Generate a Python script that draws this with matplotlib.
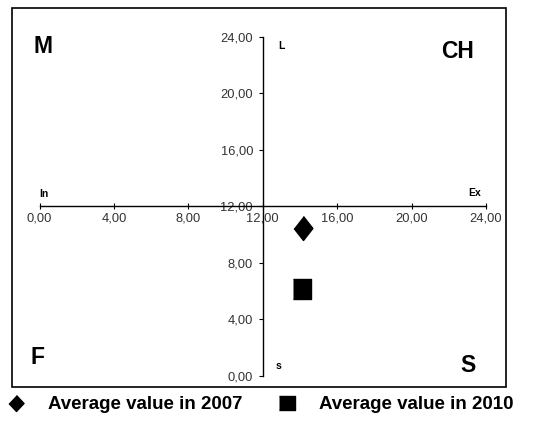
import matplotlib
matplotlib.use("Agg")
import matplotlib.pyplot as plt
from matplotlib.lines import Line2D
from matplotlib.patches import Rectangle
import numpy as np

plt.rcParams['font.family'] = ['Liberation Sans', 'DejaVu Sans']

# average positions (x = In/Ex axis, y = S/L axis)
series_names = ['Average value in 2007', 'Average value in 2010']
x_vals = [14.15, 14.13]
y_vals = [10.45, 6.16]

ticks = [0, 4, 8, 12, 16, 20, 24]
tick_labels = ['0,00', '4,00', '8,00', '12,00', '16,00', '20,00', '24,00']

W, H = 539, 443
fig = plt.figure(figsize=(W / 100, H / 100), dpi=100)

def fx(px):
    return px / W

def fy(py):
    return 1 - py / H

ax = fig.add_axes([fx(39.5), fy(375.7), fx(486) - fx(39.5), fy(37) - fy(375.7)])
ax.set_xlim(0, 24)
ax.set_ylim(0, 24)

diamond = [(0, 0.5), (0.39, 0), (0, -0.5), (-0.39, 0)]
rect = [(-0.41, -0.5), (0.41, -0.5), (0.41, 0.5), (-0.41, 0.5)]

ax.plot(x_vals[0], y_vals[0], linestyle='none', marker=diamond, markersize=17.3,
        color='black', clip_on=False)
ax.plot(x_vals[1], y_vals[1], linestyle='none', marker=rect, markersize=15.1,
        color='black', clip_on=False)

# axes crossing at the centre
ax.spines['left'].set_position(('data', 12))
ax.spines['bottom'].set_position(('data', 12))
ax.spines['top'].set_visible(False)
ax.spines['right'].set_visible(False)
for s in ('left', 'bottom'):
    ax.spines[s].set_linewidth(1.0)

ax.set_xticks(ticks)
ax.set_xticklabels(tick_labels)
ax.set_yticks(ticks)
ax.set_yticklabels(tick_labels)
ax.tick_params(axis='x', direction='inout', length=5, width=0.8, pad=2,
               labelsize=9.3, labelcolor='#333333')
ax.tick_params(axis='y', direction='out', length=3, width=0.8, pad=4,
               labelsize=9.3, labelcolor='#333333')
ax.patch.set_alpha(0)

# outer frame
fig.patches.append(Rectangle((fx(12), fy(387)), fx(506) - fx(12), fy(8) - fy(387),
                             transform=fig.transFigure, fill=False,
                             edgecolor='black', linewidth=1.2))

# quadrant letters
big = dict(fontsize=16.5, fontweight='bold', ha='center', va='center')
fig.text(fx(43.3), fy(46.7), 'M', **big)
fig.text(fx(458), fy(51.7), 'CH', **big)
fig.text(fx(37.5), fy(358), 'F', **big)
fig.text(fx(467.7), fy(365), 'S', **big)

# axis end labels
small = dict(fontsize=7.5, fontweight='bold', ha='center', va='center')
fig.text(fx(43.7), fy(193.5), 'In', **small)
fig.text(fx(475), fy(193), 'Ex', **small)
fig.text(fx(281.3), fy(46), 'L', **small)
fig.text(fx(278), fy(365.7), 's', **small)

# legend
handles = [
    Line2D([], [], linestyle='none', marker=[(0, 0.5), (0.47, 0), (0, -0.5), (-0.47, 0)],
           markersize=11.5, color='black'),
    Line2D([], [], linestyle='none', marker=[(-0.56, -0.5), (0.56, -0.5), (0.56, 0.5), (-0.56, 0.5)],
           markersize=11.5, color='black'),
]
fig.legend(handles, series_names, loc='center left', bbox_to_anchor=(fx(7.5), fy(404.5)),
           ncol=2, frameon=False, handlelength=0.9, handletextpad=1.25,
           columnspacing=1.95, borderpad=0, borderaxespad=0,
           prop={'size': 13.5, 'weight': 'bold'})

fig.savefig('out.png', dpi=100)
